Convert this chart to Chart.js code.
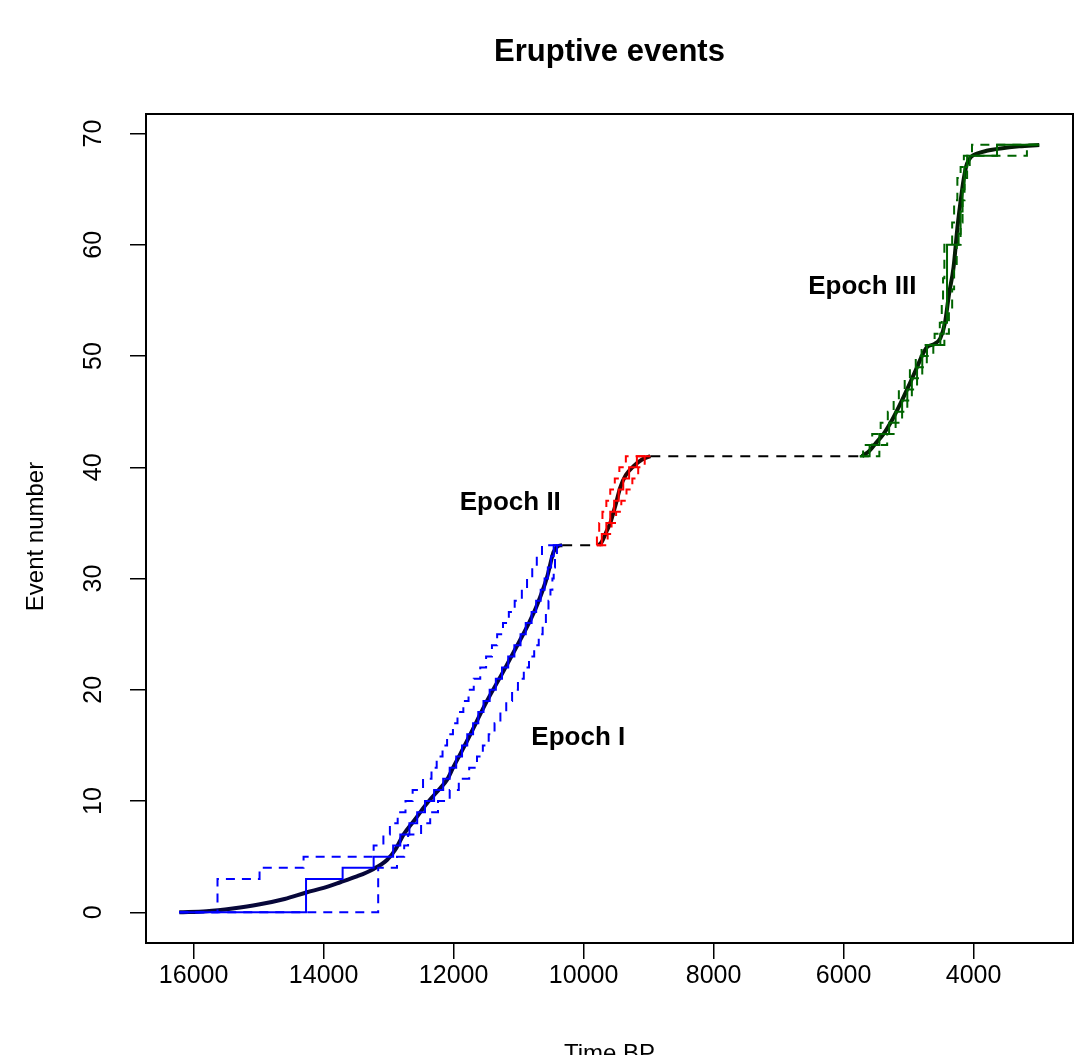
<!DOCTYPE html>
<html>
<head>
<meta charset="utf-8">
<script src="https://cdn.jsdelivr.net/npm/chart.js@4/dist/chart.umd.min.js"></script>
<style>
  html, body { margin: 0; padding: 0; background: #ffffff; }
  canvas { display: block; }
</style>
</head>
<body>
<canvas id="chart" width="1079" height="1055"></canvas>
<script>
// Axis ticks
const xTicks = [16000, 14000, 12000, 10000, 8000, 6000, 4000];
const yTicks = [0, 10, 20, 30, 40, 50, 60, 70];

// Epoch I: median (solid) and bounds (dashed) as step series: time BP, event count reached
const e1MedT = [16220, 14270, 13707, 13230, 12930, 12820, 12680, 12560, 12440, 12300, 12160, 12060, 11960, 11870, 11790, 11700, 11620, 11540, 11445, 11350, 11255, 11160, 11065, 10970, 10890, 10800, 10730, 10660, 10600, 10550, 10500, 10460, 10330];
const e1MedN = [0, 3, 4, 5, 6, 7, 8, 9, 10, 11, 12, 13, 14, 15, 16, 17, 18, 19, 20, 21, 22, 23, 24, 25, 26, 27, 28, 29, 30, 31, 32, 33, 33];
const e1UpT  = [16220, 15632, 14985, 14308, 13230, 13080, 12980, 12860, 12740, 12630, 12470, 12340, 12260, 12170, 12100, 12010, 11940, 11850, 11770, 11690, 11590, 11500, 11410, 11330, 11240, 11150, 11060, 10950, 10870, 10790, 10720, 10640, 10330];
const e1UpN  = [0, 3, 4, 5, 6, 7, 8, 9, 10, 11, 12, 13, 14, 15, 16, 17, 18, 19, 20, 21, 22, 23, 24, 25, 26, 27, 28, 29, 30, 31, 32, 33, 33];
const e1LoT  = [16220, 13160, 12871, 12760, 12700, 12500, 12360, 12240, 12060, 11920, 11760, 11640, 11550, 11460, 11370, 11280, 11190, 11100, 11010, 10920, 10840, 10760, 10690, 10630, 10580, 10540, 10510, 10480, 10460, 10440, 10410, 10330];
const e1LoN  = [0, 4, 5, 6, 7, 8, 9, 10, 11, 12, 13, 14, 15, 16, 17, 18, 19, 20, 21, 22, 23, 24, 25, 26, 27, 28, 29, 30, 31, 32, 33, 33];
// Epoch I smoothed rate curve
const e1CurveT = [16220, 15800, 15400, 15000, 14600, 14255, 14000, 13743, 13500, 13230, 13025, 12900, 12768, 12600, 12409, 12200, 12102, 12000, 11900, 11794, 11486, 11230, 10974, 10850, 10717, 10563, 10462, 10400, 10330];
const e1CurveN = [0, 0.1, 0.35, 0.7, 1.2, 1.8, 2.2, 2.7, 3.2, 3.9, 4.7, 5.6, 7.0, 8.3, 9.8, 11.2, 11.9, 13.1, 14.2, 15.4, 19.0, 21.7, 24.5, 25.9, 27.6, 30.1, 32.4, 32.9, 33];

// Epoch II
const e2MedT = [9790, 9720, 9650, 9590, 9530, 9460, 9390, 9300, 9180, 8974];
const e2MedN = [33, 34, 35, 36, 37, 38, 39, 40, 41, 41];
const e2UpT  = [9800, 9795, 9760, 9710, 9650, 9590, 9520, 9450, 9350, 8974];
const e2UpN  = [33, 34, 35, 36, 37, 38, 39, 40, 41, 41];
const e2LoT  = [9790, 9630, 9570, 9500, 9420, 9340, 9250, 9160, 9060, 8974];
const e2LoN  = [33, 34, 35, 36, 37, 38, 39, 40, 41, 41];
const e2CurveT = [9769, 9720, 9650, 9589, 9500, 9435, 9350, 9231, 9100, 8974];
const e2CurveN = [33, 33.3, 34.2, 35.0, 36.8, 38.2, 39.3, 40.1, 40.7, 41];

// Epoch III
const e3MedT = [5750, 5600, 5450, 5300, 5200, 5100, 5020, 4950, 4870, 4790, 4717, 4512, 4460, 4409, 4231, 4200, 4170, 4140, 4100, 3640, 2990];
const e3MedN = [41, 42, 43, 44, 45, 46, 47, 48, 49, 50, 51, 52, 53, 60, 61, 63, 65, 67, 68, 69, 69];
const e3UpT  = [5750, 5700, 5560, 5430, 5320, 5230, 5150, 5060, 4980, 4890, 4800, 4600, 4520, 4490, 4470, 4450, 4330, 4300, 4250, 4200, 4150, 4025, 2990];
const e3UpN  = [41, 42, 43, 44, 45, 46, 47, 48, 49, 50, 51, 52, 53, 55, 57, 60, 62, 64, 66, 67, 68, 69, 69];
const e3LoT  = [5750, 5450, 5330, 5200, 5100, 5020, 4950, 4870, 4790, 4720, 4620, 4450, 4380, 4330, 4300, 4260, 4200, 4170, 4140, 4100, 4060, 3180, 2990];
const e3LoN  = [41, 42, 43, 44, 45, 46, 47, 48, 49, 50, 51, 52, 54, 56, 58, 60, 62, 64, 66, 67, 68, 69, 69];
const e3CurveT = [5717, 5600, 5500, 5385, 5250, 5128, 5000, 4871, 4780, 4717, 4600, 4512, 4440, 4380, 4308, 4250, 4205, 4150, 4102, 4040, 3948, 3800, 3589, 3300, 2990];
const e3CurveN = [41, 41.5, 42.2, 43.0, 44.3, 45.7, 47.3, 49.0, 50.2, 50.8, 51.1, 51.6, 53.0, 55.5, 58.0, 61.5, 63.7, 66.0, 67.3, 67.9, 68.2, 68.45, 68.66, 68.85, 68.97];

// Quiet intervals between epochs
const gap1T = [10330, 9790];
const gap1N = [33, 33];
const gap2T = [8974, 5717];
const gap2N = [41, 41];

// Epoch labels
const epochLabels = ['Epoch I', 'Epoch II', 'Epoch III'];
const epochLabelT = [10082, 11128, 5712];
const epochLabelN = [15.7, 36.8, 56.2];

const pts = (t, n) => t.map((v, i) => ({ x: v, y: n[i] }));

const FONT = '"Liberation Sans", Arial, Helvetica, sans-serif';
const DASH = [9, 7];

function stepSet(t, n, color, dashed) {
  return {
    data: pts(t, n), borderColor: color, borderWidth: 2,
    borderDash: dashed ? DASH : [], stepped: true, pointRadius: 0, fill: false
  };
}
function curveSet(t, n, color) {
  return {
    data: pts(t, n), borderColor: color, borderWidth: 4,
    cubicInterpolationMode: 'monotone', pointRadius: 0, fill: false
  };
}
function gapSet(t, n) {
  return {
    data: pts(t, n), borderColor: '#000000', borderWidth: 2,
    borderDash: [10, 8], pointRadius: 0, fill: false
  };
}

const decorations = {
  id: 'decorations',
  afterDatasetsDraw(chart) {
    const { ctx, chartArea: a, scales } = chart;
    ctx.save();
    // plot frame
    ctx.strokeStyle = '#000000';
    ctx.lineWidth = 2;
    ctx.strokeRect(a.left, a.top, a.right - a.left, a.bottom - a.top);
    ctx.fillStyle = '#000000';
    // epoch labels
    ctx.font = 'bold 26px ' + FONT;
    ctx.textAlign = 'center';
    ctx.textBaseline = 'middle';
    epochLabels.forEach((s, i) => {
      ctx.fillText(s, scales.x.getPixelForValue(epochLabelT[i]), scales.y.getPixelForValue(epochLabelN[i]));
    });
    ctx.restore();
  },
  afterDraw(chart) {
    const { ctx, chartArea: a } = chart;
    ctx.save();
    ctx.fillStyle = '#000000';
    ctx.textAlign = 'center';
    ctx.textBaseline = 'middle';
    ctx.font = 'bold 31px ' + FONT;
    ctx.fillText('Eruptive events', (a.left + a.right) / 2, 52);
    ctx.font = '24px ' + FONT;
    ctx.textBaseline = 'alphabetic';
    ctx.fillText('Time BP', (a.left + a.right) / 2, 1061);
    ctx.translate(43, (a.top + a.bottom) / 2 + 8);
    ctx.rotate(-Math.PI / 2);
    ctx.textBaseline = 'alphabetic';
    ctx.fillText('Event number', 0, 0);
    ctx.restore();
  }
};

new Chart(document.getElementById('chart'), {
  type: 'line',
  data: {
    datasets: [
      stepSet(e1UpT, e1UpN, '#0000ff', true),
      stepSet(e1LoT, e1LoN, '#0000ff', true),
      stepSet(e1MedT, e1MedN, '#0000ff', false),
      stepSet(e2UpT, e2UpN, '#ff0000', true),
      stepSet(e2LoT, e2LoN, '#ff0000', true),
      stepSet(e2MedT, e2MedN, '#ff0000', false),
      stepSet(e3UpT, e3UpN, '#006400', true),
      stepSet(e3LoT, e3LoN, '#006400', true),
      stepSet(e3MedT, e3MedN, '#006400', false),
      gapSet(gap1T, gap1N),
      gapSet(gap2T, gap2N),
      curveSet(e1CurveT, e1CurveN, '#07073a'),
      curveSet(e2CurveT, e2CurveN, '#2a0606'),
      curveSet(e3CurveT, e3CurveN, '#061d06')
    ]
  },
  options: {
    responsive: false,
    animation: false,
    events: [],
    layout: { padding: { top: 114, right: 6, left: 0, bottom: 0 } },
    plugins: { legend: { display: false }, tooltip: { enabled: false }, title: { display: false } },
    scales: {
      x: {
        type: 'linear', reverse: true, min: 2471, max: 16732,
        afterFit: s => { s.height = 112; },
        afterBuildTicks: s => { s.ticks = xTicks.map(v => ({ value: v })); },
        grid: { drawOnChartArea: false, drawTicks: true, tickLength: 16, color: '#000000', lineWidth: 1.5 },
        border: { display: false },
        ticks: { color: '#000000', font: { family: FONT, size: 25 }, padding: 2, maxRotation: 0, minRotation: 0,
                 callback: v => String(v) }
      },
      y: {
        type: 'linear', min: -2.76, max: 71.76,
        afterFit: s => { s.width = 146; },
        afterBuildTicks: s => { s.ticks = yTicks.map(v => ({ value: v })); },
        grid: { drawOnChartArea: false, drawTicks: true, tickLength: 16, color: '#000000', lineWidth: 1.5 },
        border: { display: false },
        ticks: { color: '#000000', font: { family: FONT, size: 25 }, padding: 22, minRotation: 90, maxRotation: 90,
                 crossAlign: 'center', callback: v => String(v) }
      }
    }
  },
  plugins: [decorations]
});
</script>
</body>
</html>
